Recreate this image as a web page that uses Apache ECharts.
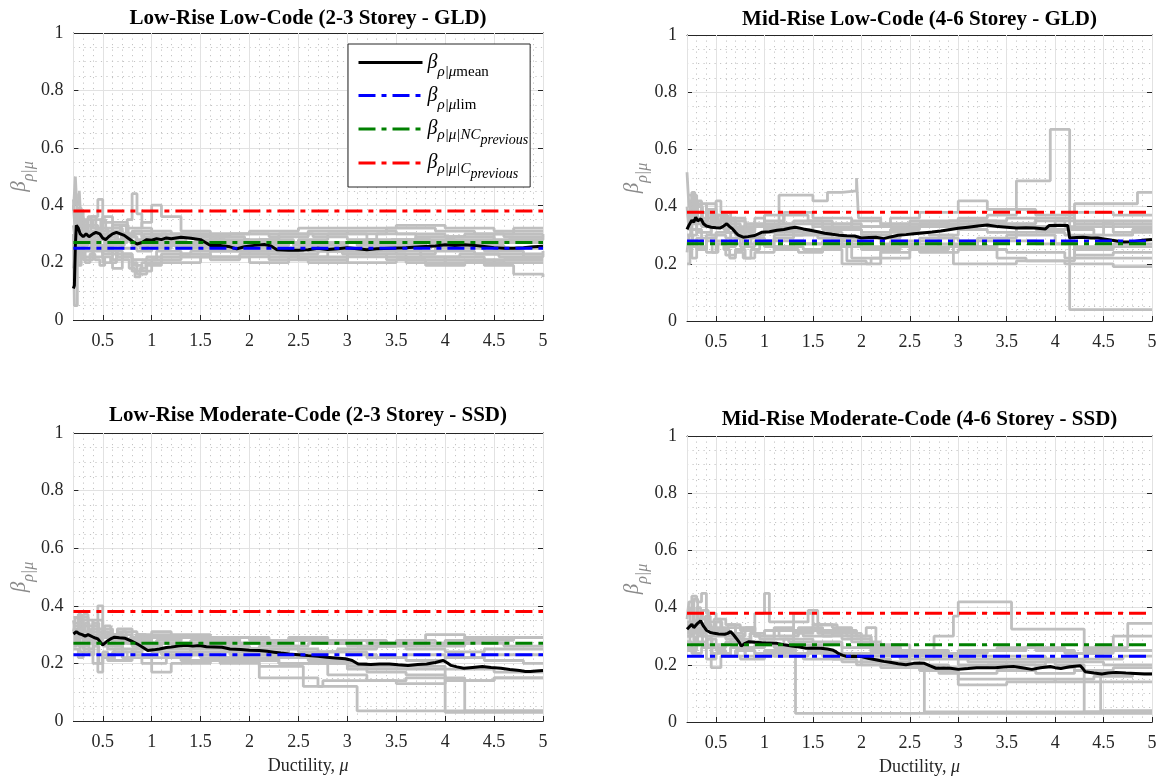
<!DOCTYPE html>
<html><head><meta charset="utf-8">
<script src="https://cdn.jsdelivr.net/npm/echarts@6/dist/echarts.min.js"></script>
<style>html,body{margin:0;padding:0;background:#fff}#c{width:1160px;height:780px}</style>
</head><body><div id="c"></div>
<script>
// ---------------- DATA ----------------
const titles = [
  'Low-Rise Low-Code (2-3 Storey - GLD)',
  'Mid-Rise Low-Code (4-6 Storey - GLD)',
  'Low-Rise Moderate-Code (2-3 Storey - SSD)',
  'Mid-Rise Moderate-Code (4-6 Storey - SSD)'
];
const xRange = [0.2, 5];
const yRange = [0, 1];
const refLim = [0.25, 0.28, 0.23, 0.23];
const refNC  = [0.27, 0.27, 0.27, 0.27];
const refC   = [0.38, 0.38, 0.38, 0.38];

// mean curves, flat x,y pairs
const tlMean = [0.2,0.11, 0.21,0.12, 0.22,0.26, 0.23,0.33, 0.25,0.32, 0.27,0.3, 0.3,0.29, 0.33,0.3, 0.36,0.29, 0.4,0.3, 0.43,0.305, 0.47,0.3, 0.5,0.285, 0.53,0.28, 0.56,0.29, 0.6,0.3, 0.64,0.305, 0.68,0.3, 0.72,0.295, 0.76,0.285, 0.8,0.275, 0.85,0.265, 0.9,0.27, 0.95,0.28, 1.0,0.278, 1.05,0.283, 1.1,0.28, 1.15,0.286, 1.2,0.283, 1.3,0.288, 1.4,0.285, 1.5,0.28, 1.55,0.27, 1.6,0.26, 1.7,0.26, 1.8,0.255, 1.87,0.248, 1.95,0.255, 2.05,0.26, 2.15,0.263, 2.22,0.258, 2.28,0.245, 2.4,0.243, 2.5,0.243, 2.6,0.245, 2.7,0.25, 2.8,0.246, 2.9,0.248, 3.0,0.252, 3.1,0.248, 3.2,0.245, 3.3,0.248, 3.45,0.25, 3.6,0.252, 3.75,0.255, 3.9,0.258, 4.0,0.262, 4.1,0.26, 4.2,0.262, 4.3,0.26, 4.4,0.256, 4.5,0.252, 4.6,0.25, 4.7,0.25, 4.8,0.252, 4.9,0.255, 5.0,0.257];
const trMean = [0.2,0.32, 0.22,0.335, 0.25,0.352, 0.27,0.345, 0.29,0.363, 0.31,0.35, 0.33,0.346, 0.345,0.357, 0.37,0.34, 0.4,0.332, 0.45,0.328, 0.5,0.326, 0.54,0.325, 0.57,0.33, 0.61,0.34, 0.64,0.33, 0.67,0.322, 0.7,0.31, 0.73,0.3, 0.78,0.293, 0.83,0.295, 0.9,0.299, 0.97,0.31, 1.05,0.312, 1.13,0.317, 1.2,0.32, 1.27,0.325, 1.32,0.328, 1.4,0.322, 1.47,0.317, 1.55,0.312, 1.62,0.307, 1.7,0.303, 1.77,0.3, 1.85,0.298, 1.93,0.297, 2.0,0.29, 2.08,0.292, 2.15,0.293, 2.23,0.288, 2.3,0.294, 2.38,0.3, 2.46,0.302, 2.54,0.305, 2.63,0.308, 2.73,0.311, 2.82,0.315, 2.92,0.32, 3.0,0.324, 3.1,0.328, 3.2,0.332, 3.3,0.336, 3.41,0.33, 3.5,0.328, 3.6,0.325, 3.7,0.326, 3.79,0.325, 3.9,0.322, 3.94,0.334, 4.05,0.335, 4.13,0.334, 4.15,0.29, 4.22,0.292, 4.29,0.293, 4.37,0.29, 4.44,0.29, 4.52,0.286, 4.59,0.282, 4.65,0.279, 4.71,0.276, 4.77,0.277, 4.82,0.278, 4.9,0.282, 5.0,0.285];
const blMean = [0.2,0.302, 0.23,0.31, 0.26,0.303, 0.29,0.3, 0.32,0.294, 0.35,0.3, 0.37,0.299, 0.41,0.29, 0.45,0.285, 0.48,0.272, 0.5,0.264, 0.52,0.27, 0.54,0.276, 0.58,0.285, 0.62,0.291, 0.67,0.289, 0.73,0.287, 0.79,0.278, 0.85,0.268, 0.9,0.258, 0.96,0.245, 1.02,0.247, 1.08,0.25, 1.15,0.255, 1.2,0.257, 1.27,0.26, 1.35,0.263, 1.42,0.26, 1.49,0.262, 1.56,0.258, 1.64,0.257, 1.72,0.256, 1.8,0.25, 1.91,0.248, 2.0,0.246, 2.1,0.245, 2.18,0.242, 2.25,0.239, 2.32,0.236, 2.4,0.233, 2.5,0.23, 2.6,0.227, 2.7,0.225, 2.79,0.221, 2.88,0.219, 2.98,0.216, 3.05,0.21, 3.11,0.198, 3.18,0.197, 3.24,0.196, 3.33,0.198, 3.43,0.198, 3.52,0.195, 3.62,0.193, 3.72,0.196, 3.81,0.198, 3.9,0.203, 3.98,0.21, 4.02,0.202, 4.06,0.193, 4.12,0.188, 4.19,0.183, 4.28,0.186, 4.38,0.189, 4.47,0.186, 4.57,0.183, 4.66,0.179, 4.76,0.175, 4.82,0.172, 4.87,0.172, 4.93,0.174, 5.0,0.175];
const brMean = [0.2,0.324, 0.22,0.33, 0.25,0.342, 0.27,0.33, 0.29,0.327, 0.31,0.345, 0.34,0.354, 0.37,0.335, 0.4,0.321, 0.44,0.313, 0.48,0.31, 0.53,0.308, 0.59,0.307, 0.62,0.31, 0.65,0.316, 0.68,0.305, 0.71,0.292, 0.74,0.278, 0.76,0.266, 0.8,0.275, 0.84,0.281, 0.9,0.279, 0.97,0.277, 1.05,0.276, 1.13,0.275, 1.2,0.27, 1.28,0.266, 1.36,0.262, 1.43,0.258, 1.5,0.259, 1.58,0.258, 1.65,0.255, 1.7,0.252, 1.74,0.245, 1.77,0.238, 1.81,0.233, 1.85,0.229, 1.92,0.23, 2.0,0.229, 2.08,0.222, 2.16,0.217, 2.23,0.212, 2.31,0.208, 2.38,0.204, 2.46,0.2, 2.54,0.205, 2.6,0.206, 2.65,0.205, 2.71,0.196, 2.77,0.188, 2.85,0.189, 2.92,0.188, 3.0,0.184, 3.1,0.187, 3.19,0.19, 3.28,0.19, 3.38,0.19, 3.47,0.192, 3.57,0.194, 3.66,0.19, 3.76,0.184, 3.85,0.19, 3.95,0.194, 4.0,0.19, 4.06,0.187, 4.15,0.193, 4.26,0.197, 4.29,0.185, 4.31,0.176, 4.4,0.171, 4.48,0.168, 4.55,0.171, 4.63,0.173, 4.73,0.171, 4.83,0.17, 4.92,0.168, 5.0,0.168];

// individual record curves (step), flat x,y pairs
const tlGray = [
  [0.2,0.38, 0.22,0.50, 0.24,0.36, 0.3,0.33, 0.4,0.35, 0.5,0.31, 0.6,0.33, 0.75,0.3, 0.9,0.29, 1.1,0.3, 1.4,0.29, 1.8,0.3, 2.2,0.29, 2.6,0.31, 3.0,0.3, 3.4,0.32, 3.9,0.31, 4.3,0.3, 4.7,0.32, 5,0.32],
  [0.2,0.3, 0.21,0.05, 0.24,0.2, 0.26,0.25, 0.3,0.22, 0.4,0.26, 0.5,0.24, 0.6,0.23, 0.8,0.2, 0.85,0.16, 0.95,0.19, 1.1,0.2, 1.5,0.22, 2.0,0.22, 2.5,0.21, 3.0,0.22, 3.5,0.22, 4.0,0.21, 4.5,0.2, 5,0.2],
  [0.2,0.44, 0.23,0.4, 0.26,0.45, 0.28,0.32, 0.35,0.36, 0.45,0.42, 0.5,0.34, 0.6,0.31, 0.7,0.28, 0.8,0.26, 1.0,0.27, 1.3,0.26, 1.7,0.25, 2.0,0.26, 2.4,0.27, 2.9,0.25, 3.3,0.26, 3.8,0.27, 4.2,0.26, 4.6,0.25, 5,0.25],
  [0.2,0.35, 0.24,0.28, 0.3,0.3, 0.38,0.25, 0.45,0.28, 0.55,0.26, 0.65,0.3, 0.75,0.35, 0.8,0.44, 0.85,0.37, 0.9,0.32, 1.0,0.31, 1.2,0.3, 1.6,0.28, 2.0,0.27, 2.5,0.28, 2.8,0.3, 3.2,0.28, 3.7,0.29, 4.2,0.3, 4.6,0.29, 5,0.3],
  [0.2,0.25, 0.25,0.3, 0.3,0.27, 0.4,0.24, 0.5,0.2, 0.6,0.18, 0.7,0.22, 0.8,0.19, 0.9,0.17, 1.0,0.21, 1.3,0.23, 1.6,0.22, 2.0,0.2, 2.4,0.22, 2.8,0.24, 3.2,0.23, 3.6,0.2, 4.0,0.22, 4.4,0.19, 4.7,0.16, 5,0.15],
  [0.2,0.32, 0.23,0.38, 0.3,0.35, 0.4,0.32, 0.5,0.36, 0.6,0.34, 0.75,0.32, 0.9,0.34, 1.0,0.4, 1.1,0.36, 1.3,0.31, 1.6,0.3, 2.0,0.31, 2.5,0.32, 3.0,0.32, 3.5,0.33, 4.0,0.32, 4.5,0.31, 5,0.31],
  [0.2,0.28, 0.25,0.24, 0.3,0.21, 0.4,0.25, 0.5,0.23, 0.6,0.27, 0.7,0.25, 0.85,0.24, 1.0,0.25, 1.2,0.26, 1.5,0.25, 1.9,0.24, 2.3,0.23, 2.7,0.24, 3.1,0.24, 3.5,0.23, 3.9,0.24, 4.3,0.23, 4.8,0.22, 5,0.23],
  [0.2,0.4, 0.22,0.3, 0.27,0.33, 0.35,0.29, 0.45,0.32, 0.55,0.29, 0.65,0.27, 0.75,0.29, 0.85,0.28, 1.0,0.28, 1.3,0.29, 1.7,0.27, 2.1,0.27, 2.5,0.26, 3.0,0.27, 3.5,0.27, 4.0,0.28, 4.5,0.27, 5,0.27],
  [0.2,0.2, 0.23,0.27, 0.3,0.24, 0.4,0.22, 0.5,0.25, 0.6,0.21, 0.7,0.23, 0.8,0.21, 0.95,0.22, 1.2,0.22, 1.6,0.24, 2.0,0.23, 2.5,0.22, 3.0,0.2, 3.5,0.21, 4.0,0.2, 4.5,0.21, 5,0.21],
  [0.2,0.36, 0.26,0.31, 0.35,0.33, 0.45,0.3, 0.55,0.32, 0.7,0.3, 0.8,0.31, 1.0,0.29, 1.3,0.3, 1.6,0.3, 2.0,0.3, 2.5,0.3, 3.0,0.31, 3.5,0.3, 4.0,0.29, 4.5,0.28, 5,0.29],
  [0.2,0.22, 0.24,0.26, 0.35,0.28, 0.45,0.26, 0.55,0.24, 0.65,0.22, 0.8,0.17, 0.9,0.2, 1.1,0.23, 1.4,0.24, 1.8,0.24, 2.2,0.25, 2.6,0.24, 3.0,0.25, 3.4,0.24, 3.9,0.25, 4.4,0.24, 4.8,0.23, 5,0.24],
  [0.2,0.33, 0.22,0.27, 0.25,0.31, 0.28,0.26, 0.32,0.3, 0.36,0.27, 0.42,0.31, 0.48,0.28, 0.52,0.25, 0.58,0.28, 0.66,0.26, 0.72,0.3, 0.78,0.27, 0.88,0.25, 0.96,0.27, 1.05,0.26, 1.2,0.27, 1.45,0.28, 1.75,0.26, 2.1,0.28, 2.45,0.26, 2.75,0.27, 3.1,0.26, 3.45,0.28, 3.85,0.26, 4.25,0.27, 4.65,0.28, 5,0.28],
  [0.2,0.24, 0.23,0.35, 0.26,0.29, 0.29,0.33, 0.33,0.28, 0.37,0.31, 0.41,0.27, 0.46,0.3, 0.52,0.27, 0.57,0.3, 0.63,0.28, 0.69,0.33, 0.74,0.29, 0.82,0.31, 0.9,0.28, 1.0,0.3, 1.15,0.28, 1.35,0.27, 1.65,0.29, 1.95,0.28, 2.3,0.3, 2.65,0.29, 3.0,0.28, 3.3,0.3, 3.7,0.28, 4.1,0.27, 4.5,0.3, 5,0.3],
  [0.2,0.42, 0.22,0.34, 0.25,0.39, 0.28,0.3, 0.31,0.34, 0.34,0.3, 0.38,0.36, 0.43,0.31, 0.48,0.35, 0.53,0.31, 0.6,0.3, 0.68,0.33, 0.76,0.29, 0.84,0.27, 0.92,0.3, 1.0,0.26, 1.25,0.25, 1.55,0.27, 1.85,0.25, 2.2,0.24, 2.55,0.25, 2.95,0.23, 3.3,0.25, 3.75,0.22, 4.15,0.23, 4.55,0.22, 5,0.22],
  [0.2,0.18, 0.22,0.23, 0.25,0.19, 0.28,0.24, 0.32,0.2, 0.37,0.23, 0.42,0.21, 0.47,0.19, 0.52,0.22, 0.58,0.2, 0.64,0.24, 0.7,0.21, 0.77,0.18, 0.83,0.15, 0.88,0.18, 0.94,0.21, 1.05,0.24, 1.3,0.22, 1.6,0.21, 1.9,0.23, 2.2,0.21, 2.6,0.2, 3.0,0.23, 3.4,0.21, 3.8,0.19, 4.2,0.2, 4.6,0.21, 5,0.21]
];
const trGray = [
  [0.2,0.3, 0.25,0.36, 0.35,0.33, 0.5,0.35, 0.7,0.33, 1.0,0.32, 1.5,0.34, 2.0,0.33, 2.5,0.35, 3.0,0.36, 3.3,0.37, 3.6,0.49, 3.95,0.67, 4.15,0.04, 5,0.04],
  [0.2,0.52, 0.22,0.4, 0.26,0.44, 0.3,0.38, 0.4,0.41, 0.5,0.37, 0.6,0.34, 0.75,0.31, 0.9,0.33, 1.15,0.44, 1.5,0.42, 1.65,0.45, 1.8,0.455, 1.95,0.5, 1.97,0.36, 2.2,0.34, 2.6,0.33, 3.0,0.34, 3.5,0.33, 4.0,0.35, 4.5,0.34, 5,0.34],
  [0.2,0.2, 0.23,0.28, 0.3,0.25, 0.4,0.3, 0.5,0.27, 0.6,0.23, 0.7,0.25, 0.8,0.22, 0.9,0.24, 1.1,0.26, 1.4,0.25, 1.8,0.2, 2.1,0.22, 2.5,0.25, 2.9,0.26, 3.4,0.22, 3.7,0.21, 4.1,0.2, 4.6,0.19, 5,0.19],
  [0.2,0.44, 0.25,0.35, 0.3,0.41, 0.4,0.36, 0.5,0.42, 0.55,0.38, 0.65,0.35, 0.8,0.3, 1.0,0.35, 1.2,0.38, 1.5,0.36, 1.9,0.33, 2.3,0.36, 2.6,0.38, 3.0,0.42, 3.3,0.39, 3.8,0.37, 4.2,0.41, 4.85,0.45, 5,0.45],
  [0.2,0.33, 0.24,0.3, 0.3,0.34, 0.45,0.3, 0.6,0.29, 0.75,0.26, 0.9,0.28, 1.1,0.3, 1.4,0.31, 1.8,0.29, 2.2,0.27, 2.6,0.29, 3.0,0.28, 3.5,0.3, 4.0,0.27, 4.2,0.23, 4.6,0.24, 5,0.24],
  [0.2,0.36, 0.25,0.4, 0.35,0.38, 0.45,0.34, 0.55,0.36, 0.7,0.32, 0.85,0.3, 1.0,0.31, 1.3,0.3, 1.7,0.28, 2.0,0.25, 2.4,0.27, 2.8,0.26, 3.2,0.29, 3.6,0.31, 4.1,0.3, 4.5,0.33, 5,0.33],
  [0.2,0.26, 0.25,0.22, 0.3,0.26, 0.4,0.24, 0.5,0.28, 0.6,0.26, 0.7,0.29, 0.8,0.27, 1.0,0.26, 1.3,0.27, 1.6,0.28, 1.9,0.22, 2.2,0.26, 2.6,0.24, 3.0,0.25, 3.5,0.24, 3.9,0.24, 4.1,0.22, 5,0.22],
  [0.2,0.38, 0.3,0.36, 0.4,0.39, 0.5,0.33, 0.65,0.36, 0.8,0.33, 1.0,0.37, 1.2,0.34, 1.5,0.33, 1.9,0.35, 2.2,0.33, 2.6,0.34, 3.0,0.35, 3.4,0.34, 3.8,0.36, 4.2,0.34, 4.6,0.31, 5,0.31],
  [0.2,0.28, 0.25,0.32, 0.35,0.29, 0.5,0.31, 0.65,0.27, 0.8,0.29, 1.0,0.28, 1.4,0.27, 1.8,0.26, 2.3,0.28, 2.8,0.3, 2.95,0.2, 3.6,0.21, 4.2,0.26, 4.6,0.27, 5,0.27],
  [0.2,0.3, 0.24,0.34, 0.3,0.31, 0.45,0.33, 0.6,0.31, 0.8,0.34, 1.0,0.33, 1.3,0.35, 1.6,0.32, 2.0,0.31, 2.5,0.33, 2.9,0.35, 3.3,0.33, 3.8,0.32, 4.2,0.38, 4.6,0.37, 5,0.37],
  [0.2,0.4, 0.22,0.32, 0.25,0.45, 0.28,0.37, 0.31,0.42, 0.35,0.34, 0.4,0.38, 0.46,0.33, 0.52,0.37, 0.58,0.32, 0.64,0.35, 0.7,0.3, 0.78,0.27, 0.86,0.3, 0.95,0.27, 1.1,0.29, 1.3,0.31, 1.55,0.29, 1.8,0.27, 2.1,0.29, 2.4,0.31, 2.7,0.3, 3.0,0.32, 3.3,0.31, 3.6,0.33, 4.0,0.32, 4.4,0.3, 4.8,0.32, 5,0.32],
  [0.2,0.24, 0.22,0.3, 0.26,0.26, 0.3,0.29, 0.35,0.25, 0.4,0.28, 0.46,0.24, 0.52,0.27, 0.58,0.25, 0.64,0.22, 0.7,0.24, 0.78,0.22, 0.86,0.25, 0.95,0.27, 1.1,0.25, 1.35,0.24, 1.6,0.26, 1.85,0.21, 2.05,0.2, 2.2,0.24, 2.5,0.26, 2.8,0.27, 3.1,0.26, 3.4,0.28, 3.8,0.27, 4.2,0.25, 4.6,0.26, 5,0.26],
  [0.2,0.35, 0.23,0.42, 0.27,0.36, 0.31,0.4, 0.36,0.35, 0.42,0.39, 0.48,0.34, 0.55,0.37, 0.62,0.33, 0.7,0.35, 0.8,0.32, 0.9,0.36, 1.0,0.34, 1.2,0.37, 1.45,0.35, 1.7,0.32, 2.0,0.3, 2.3,0.32, 2.6,0.34, 2.9,0.33, 3.2,0.35, 3.5,0.36, 3.8,0.35, 4.1,0.33, 4.5,0.35, 5,0.35]
];
const blGray = [
  [0.2,0.36, 0.25,0.32, 0.3,0.35, 0.4,0.33, 0.45,0.4, 0.5,0.32, 0.6,0.3, 0.7,0.31, 0.85,0.28, 1.0,0.3, 1.2,0.29, 1.5,0.28, 1.9,0.27, 2.3,0.28, 2.7,0.27, 3.0,0.28, 3.4,0.27, 3.8,0.26, 4.2,0.29, 5,0.29],
  [0.2,0.3, 0.25,0.26, 0.35,0.28, 0.45,0.17, 0.5,0.22, 0.6,0.24, 0.75,0.22, 0.9,0.2, 1.0,0.17, 1.2,0.2, 1.6,0.21, 2.1,0.15, 2.6,0.15, 2.7,0.12, 3.1,0.035, 5,0.035],
  [0.2,0.32, 0.3,0.29, 0.4,0.31, 0.5,0.27, 0.6,0.29, 0.75,0.27, 0.9,0.26, 1.1,0.25, 1.4,0.24, 1.8,0.23, 2.2,0.22, 2.6,0.21, 3.0,0.19, 3.5,0.18, 4.0,0.15, 4.2,0.035, 5,0.035],
  [0.2,0.28, 0.25,0.33, 0.35,0.3, 0.45,0.27, 0.55,0.25, 0.7,0.28, 0.85,0.3, 1.0,0.29, 1.3,0.27, 1.7,0.25, 2.1,0.26, 2.5,0.24, 2.9,0.25, 3.3,0.26, 3.8,0.3, 4.2,0.27, 4.6,0.26, 5,0.26],
  [0.2,0.25, 0.25,0.22, 0.3,0.24, 0.4,0.2, 0.5,0.23, 0.6,0.21, 0.8,0.23, 1.0,0.22, 1.3,0.21, 1.7,0.2, 2.1,0.19, 2.5,0.2, 2.8,0.16, 3.2,0.14, 3.6,0.15, 4.0,0.14, 4.5,0.15, 5,0.15],
  [0.2,0.34, 0.3,0.31, 0.4,0.35, 0.5,0.3, 0.65,0.32, 0.8,0.29, 1.0,0.31, 1.2,0.3, 1.6,0.29, 2.0,0.28, 2.4,0.29, 2.8,0.28, 3.2,0.27, 3.6,0.25, 4.0,0.24, 4.4,0.25, 5,0.25],
  [0.2,0.27, 0.3,0.25, 0.4,0.28, 0.5,0.26, 0.7,0.24, 0.9,0.25, 1.1,0.23, 1.5,0.22, 1.9,0.22, 2.3,0.2, 2.7,0.2, 3.0,0.18, 3.5,0.19, 4.0,0.18, 4.5,0.17, 5,0.17],
  [0.2,0.31, 0.25,0.36, 0.35,0.33, 0.45,0.29, 0.6,0.27, 0.7,0.25, 0.85,0.26, 1.0,0.24, 1.4,0.25, 1.8,0.24, 2.2,0.23, 2.6,0.22, 2.8,0.2, 3.2,0.17, 3.6,0.16, 4.0,0.03, 5,0.03],
  [0.2,0.29, 0.3,0.27, 0.45,0.3, 0.6,0.28, 0.8,0.26, 1.0,0.27, 1.3,0.26, 1.7,0.26, 2.0,0.25, 2.4,0.23, 2.8,0.24, 3.2,0.22, 3.6,0.21, 4.0,0.22, 4.4,0.21, 4.8,0.2, 5,0.2],
  [0.2,0.33, 0.28,0.3, 0.38,0.32, 0.5,0.29, 0.65,0.3, 0.8,0.28, 1.0,0.27, 1.4,0.28, 1.8,0.27, 2.2,0.26, 2.6,0.27, 3.0,0.26, 3.5,0.27, 4.0,0.28, 4.4,0.29, 5,0.29],
  [0.2,0.35, 0.22,0.3, 0.25,0.37, 0.28,0.31, 0.32,0.34, 0.36,0.29, 0.4,0.33, 0.45,0.28, 0.5,0.31, 0.56,0.27, 0.62,0.3, 0.7,0.27, 0.78,0.29, 0.88,0.26, 0.97,0.25, 1.1,0.27, 1.3,0.26, 1.55,0.27, 1.8,0.25, 2.1,0.24, 2.4,0.25, 2.7,0.24, 3.0,0.23, 3.3,0.22, 3.6,0.23, 4.0,0.22, 4.4,0.23, 5,0.23],
  [0.2,0.26, 0.23,0.3, 0.27,0.24, 0.31,0.28, 0.36,0.23, 0.41,0.26, 0.46,0.2, 0.5,0.24, 0.55,0.21, 0.62,0.25, 0.7,0.22, 0.8,0.25, 0.9,0.22, 1.0,0.2, 1.15,0.22, 1.4,0.23, 1.7,0.22, 2.0,0.21, 2.3,0.2, 2.5,0.19, 2.55,0.12, 2.75,0.14, 3.1,0.14, 3.5,0.13, 4.0,0.14, 4.5,0.15, 5,0.15],
  [0.2,0.31, 0.22,0.36, 0.26,0.32, 0.3,0.37, 0.35,0.31, 0.4,0.34, 0.46,0.3, 0.52,0.33, 0.58,0.29, 0.66,0.31, 0.74,0.28, 0.84,0.3, 0.94,0.27, 1.05,0.28, 1.3,0.29, 1.6,0.28, 1.9,0.29, 2.2,0.28, 2.5,0.28, 2.8,0.27, 3.1,0.26, 3.5,0.28, 3.9,0.27, 4.3,0.28, 4.7,0.29, 5,0.29]
];
const brGray = [
  [0.2,0.38, 0.25,0.44, 0.3,0.42, 0.35,0.45, 0.4,0.38, 0.5,0.36, 0.6,0.34, 0.75,0.32, 0.9,0.38, 1.0,0.45, 1.05,0.35, 1.3,0.38, 1.5,0.34, 1.7,0.33, 1.9,0.3, 2.1,0.25, 2.5,0.24, 3.0,0.23, 3.5,0.22, 4.0,0.21, 4.5,0.2, 5,0.2],
  [0.2,0.3, 0.25,0.33, 0.35,0.3, 0.45,0.26, 0.6,0.28, 0.75,0.26, 0.9,0.27, 1.1,0.26, 1.32,0.03, 5,0.03],
  [0.2,0.25, 0.3,0.28, 0.4,0.22, 0.5,0.24, 0.65,0.26, 0.8,0.23, 1.0,0.25, 1.3,0.27, 1.6,0.24, 2.0,0.22, 2.3,0.2, 2.65,0.035, 5,0.035],
  [0.2,0.32, 0.3,0.36, 0.4,0.33, 0.5,0.3, 0.7,0.33, 0.9,0.3, 1.1,0.32, 1.4,0.3, 1.7,0.31, 2.0,0.26, 2.4,0.22, 2.75,0.3, 2.95,0.37, 3.0,0.42, 3.55,0.325, 4.3,0.25, 4.6,0.3, 5,0.3],
  [0.2,0.28, 0.25,0.24, 0.35,0.26, 0.45,0.19, 0.55,0.23, 0.7,0.25, 0.9,0.24, 1.1,0.23, 1.4,0.22, 1.8,0.21, 2.2,0.19, 2.6,0.18, 3.0,0.15, 3.5,0.15, 4.0,0.14, 4.5,0.14, 5,0.14],
  [0.2,0.35, 0.3,0.32, 0.4,0.35, 0.55,0.31, 0.7,0.29, 0.85,0.31, 1.0,0.3, 1.3,0.32, 1.6,0.3, 1.9,0.28, 2.2,0.24, 2.6,0.22, 3.0,0.2, 3.5,0.21, 4.0,0.2, 4.3,0.035, 5,0.035],
  [0.2,0.3, 0.28,0.27, 0.4,0.29, 0.5,0.27, 0.65,0.29, 0.8,0.28, 1.0,0.29, 1.25,0.28, 1.5,0.27, 1.8,0.24, 2.1,0.23, 2.5,0.2, 2.9,0.19, 3.3,0.2, 3.8,0.19, 4.2,0.18, 4.47,0.04, 5,0.04],
  [0.2,0.26, 0.3,0.3, 0.4,0.27, 0.5,0.25, 0.6,0.23, 0.75,0.22, 0.9,0.23, 1.2,0.24, 1.6,0.23, 2.0,0.2, 2.4,0.19, 2.8,0.17, 3.0,0.13, 3.5,0.14, 4.0,0.15, 4.4,0.16, 4.8,0.17, 5,0.17],
  [0.2,0.34, 0.3,0.31, 0.4,0.3, 0.5,0.33, 0.6,0.3, 0.75,0.28, 0.95,0.27, 1.2,0.29, 1.5,0.28, 1.8,0.26, 2.1,0.24, 2.5,0.23, 3.0,0.22, 3.5,0.23, 3.9,0.22, 4.3,0.26, 4.75,0.345, 5,0.345],
  [0.2,0.31, 0.3,0.34, 0.45,0.32, 0.6,0.29, 0.8,0.26, 1.0,0.27, 1.3,0.35, 1.45,0.39, 1.55,0.31, 1.8,0.29, 2.1,0.27, 2.5,0.25, 2.9,0.24, 3.3,0.25, 3.7,0.26, 4.1,0.24, 4.5,0.25, 5,0.25],
  [0.2,0.36, 0.22,0.42, 0.26,0.35, 0.3,0.4, 0.34,0.34, 0.39,0.37, 0.44,0.32, 0.5,0.35, 0.56,0.31, 0.63,0.33, 0.7,0.3, 0.8,0.33, 0.9,0.3, 1.0,0.32, 1.15,0.3, 1.35,0.33, 1.6,0.32, 1.85,0.3, 2.05,0.33, 2.15,0.27, 2.4,0.25, 2.7,0.24, 3.0,0.25, 3.4,0.26, 3.8,0.25, 4.2,0.24, 4.6,0.25, 5,0.25],
  [0.2,0.28, 0.23,0.33, 0.27,0.27, 0.31,0.31, 0.36,0.26, 0.41,0.29, 0.46,0.24, 0.52,0.27, 0.58,0.23, 0.65,0.26, 0.72,0.23, 0.8,0.25, 0.9,0.22, 1.0,0.24, 1.2,0.23, 1.45,0.25, 1.7,0.22, 1.95,0.2, 2.2,0.21, 2.5,0.19, 2.8,0.18, 3.0,0.17, 3.4,0.18, 3.8,0.17, 4.2,0.18, 4.6,0.19, 5,0.19],
  [0.2,0.4, 0.23,0.34, 0.27,0.43, 0.31,0.36, 0.36,0.39, 0.42,0.33, 0.48,0.36, 0.55,0.32, 0.62,0.34, 0.7,0.31, 0.78,0.28, 0.86,0.31, 0.95,0.29, 1.1,0.33, 1.3,0.31, 1.5,0.34, 1.75,0.32, 1.95,0.3, 2.1,0.26, 2.4,0.24, 2.75,0.23, 3.1,0.21, 3.5,0.2, 3.9,0.21, 4.3,0.22, 4.7,0.23, 5,0.23]
];

const means = [tlMean, trMean, blMean, brMean];
const grays = [tlGray, trGray, blGray, brGray];

// ---------------- STYLE / LAYOUT ----------------
const SERIF = '"Liberation Serif", "Times New Roman", serif';
const AX = '#262626';
const gridBoxes = [
  {left: 73, top: 33, width: 470, height: 287},
  {left: 687, top: 35, width: 465, height: 286},
  {left: 73, top: 433, width: 470, height: 288},
  {left: 687, top: 436, width: 465, height: 286}
];
const titleTops = [8, 9, 405, 409];
const DASHDOT = [17, 6, 5, 6];

function pairs(flat) {
  const out = [];
  for (let i = 0; i < flat.length; i += 2) out.push([flat[i], flat[i + 1]]);
  return out;
}

function richTok(size, italic, lh, padTop) {
  const o = {fontFamily: SERIF, fontSize: size, lineHeight: lh, verticalAlign: 'middle', color: '#000'};
  if (italic) o.fontStyle = 'italic';
  if (padTop) o.padding = [padTop, 0, 0, 0];
  return o;
}

const option = {
  backgroundColor: '#fff',
  animation: false,
  title: [], grid: [], xAxis: [], yAxis: [], series: [],
  legend: {
    data: ['mean', 'lim', 'NC', 'C'],
    orient: 'vertical',
    left: 348, top: 44,
    padding: [1, 2, 6, 9],
    itemGap: -2,
    itemWidth: 64, itemHeight: 14,
    borderColor: AX, borderWidth: 1,
    backgroundColor: '#fff',
    selectedMode: false,
    itemStyle: {opacity: 0},
    lineStyle: {width: 3},
    formatter: function (name) {
      if (name === 'mean') return '{bm|β}{s|ρ|μ}{r|mean}';
      if (name === 'lim') return '{bl|β}{s|ρ|μ}{r|lim}';
      if (name === 'NC') return '{bn|β}{n|ρ|μ|NC}{p|previous}';
      return '{bc|β}{n|ρ|μ|C}{p|previous}';
    },
    textStyle: {
      fontFamily: SERIF, color: '#000',
      rich: {
        bm: richTok(20, true, 36, 0),
        bl: richTok(20, true, 38, 0),
        bn: richTok(20, true, 46, 0),
        bc: richTok(20, true, 44, 0),
        s: richTok(15, true, 10, 20),
        r: richTok(15, false, 10, 20),
        n: richTok(15, true, 10, 12),
        p: richTok(14, true, 10, 22)
      }
    }
  }
};

for (let i = 0; i < 4; i++) {
  const g = gridBoxes[i];
  const bottomRow = i >= 2;
  option.grid.push(Object.assign({containLabel: false}, g));
  option.title.push({
    text: titles[i],
    left: g.left + g.width / 2, top: titleTops[i], textAlign: 'center', padding: 0,
    textStyle: {fontFamily: SERIF, fontWeight: 'bold', fontSize: 21, lineHeight: 21, color: '#000'}
  });
  // main bottom x axis
  option.xAxis.push({
    gridIndex: i, type: 'value', position: 'bottom',
    min: xRange[0], max: xRange[1], splitNumber: 10,
    axisLine: {show: true, onZero: false, lineStyle: {color: AX, width: 1}},
    axisTick: {show: true, inside: true, length: 5, lineStyle: {color: AX}},
    axisLabel: {show: true, showMinLabel: false, color: AX, fontFamily: SERIF, fontSize: 18, margin: 12},
    splitLine: {show: true, lineStyle: {color: '#e2e2e2', width: 1}},
    name: bottomRow ? '{n|Ductility, }{m|μ}' : '',
    nameLocation: 'middle', nameGap: 36,
    nameTextStyle: {
      rich: {
        n: {fontFamily: SERIF, fontSize: 18, color: AX},
        m: {fontFamily: SERIF, fontSize: 18, fontStyle: 'italic', color: AX}
      }
    },
    z: 1
  });
  // top x axis: minor dotted grid + box border
  option.xAxis.push({
    gridIndex: i, type: 'value', position: 'top',
    min: xRange[0], max: xRange[1], interval: 0.1,
    axisLine: {show: true, onZero: false, lineStyle: {color: AX, width: 1}},
    axisTick: {show: false}, axisLabel: {show: false},
    splitLine: {show: true, lineStyle: {color: '#c4c4c4', width: 1, type: [1.2, 4.3]}},
    z: 0
  });
  // left y axis
  option.yAxis.push({
    gridIndex: i, type: 'value', position: 'left',
    min: yRange[0], max: yRange[1], interval: 0.2,
    axisLine: {show: true, onZero: false, lineStyle: {color: AX, width: 1}},
    axisTick: {show: true, inside: true, length: 5, lineStyle: {color: AX}},
    axisLabel: {show: true, color: AX, fontFamily: SERIF, fontSize: 18, margin: 10},
    splitLine: {show: true, lineStyle: {color: '#e2e2e2', width: 1}},
    minorTick: {show: false, splitNumber: 4},
    minorSplitLine: {show: true, lineStyle: {color: '#c4c4c4', width: 1, type: [1.2, 4.3]}},
    name: '{b|β}{s|ρ|μ}',
    nameLocation: 'middle', nameRotate: 90, nameGap: 42,
    nameTextStyle: {
      rich: {
        b: {fontFamily: SERIF, fontStyle: 'italic', fontSize: 21, lineHeight: 24, verticalAlign: 'middle', color: '#8a8a8a'},
        s: {fontFamily: SERIF, fontStyle: 'italic', fontSize: 16, lineHeight: 10, padding: [20, 0, 0, 0], verticalAlign: 'middle', color: '#8a8a8a'}
      }
    }
  });
  // right y axis (box border with inward ticks)
  option.yAxis.push({
    gridIndex: i, type: 'value', position: 'right',
    min: yRange[0], max: yRange[1], interval: 0.2,
    axisLine: {show: true, onZero: false, lineStyle: {color: AX, width: 1}},
    axisTick: {show: true, inside: true, length: 5, lineStyle: {color: AX}},
    axisLabel: {show: false}, splitLine: {show: false}
  });

  const xi = 2 * i, yi = 2 * i;
  grays[i].forEach(function (rec, k) {
    option.series.push({
      name: 'record' + k, type: 'line', step: 'end',
      xAxisIndex: xi, yAxisIndex: yi,
      data: pairs(rec), symbol: 'none', showSymbol: false, silent: true,
      lineStyle: {color: '#bfbfbf', width: 2.8}, itemStyle: {color: '#bfbfbf'}, z: 2
    });
  });
  option.series.push({
    name: 'mean', type: 'line', xAxisIndex: xi, yAxisIndex: yi,
    data: pairs(means[i]), symbol: 'none', showSymbol: false, silent: true,
    lineStyle: {color: '#000', width: 3}, itemStyle: {color: '#000'}, z: 3
  });
  const refs = [['lim', refLim[i], '#0000ff'], ['NC', refNC[i], '#008000'], ['C', refC[i], '#ff0000']];
  refs.forEach(function (r) {
    option.series.push({
      name: r[0], type: 'line', xAxisIndex: xi, yAxisIndex: yi,
      data: [[xRange[0], r[1]], [xRange[1], r[1]]],
      symbol: 'none', showSymbol: false, silent: true,
      lineStyle: {color: r[2], width: 3, type: DASHDOT}, itemStyle: {color: r[2]}, z: 4
    });
  });
}

const chart = echarts.init(document.getElementById('c'), null, {renderer: 'canvas'});
chart.setOption(option);
</script>
</body></html>
